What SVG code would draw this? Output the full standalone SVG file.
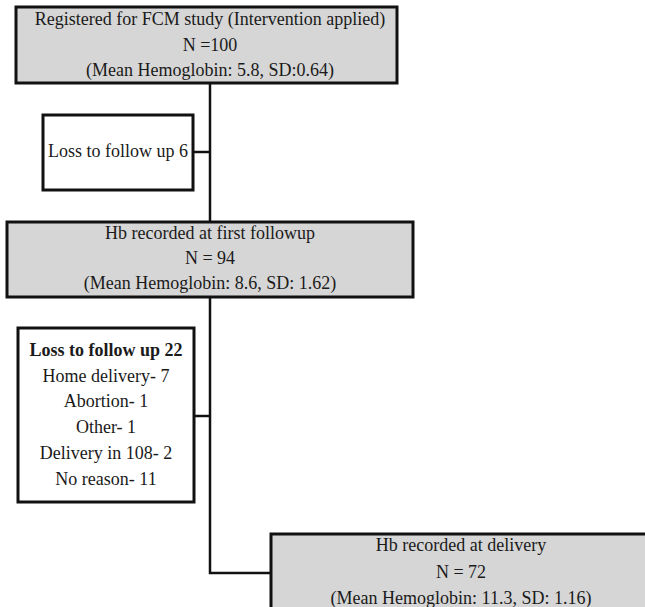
<svg xmlns="http://www.w3.org/2000/svg" width="645" height="607" viewBox="0 0 645 607">
<style>
.box{stroke:#111;stroke-width:3}
.g{fill:#d6d6d6}
.w{fill:#fff}
text{font-family:"Liberation Serif","Times New Roman",serif;font-size:18px;fill:#1a1a1a;text-anchor:middle}
.b{font-weight:bold}
.c{fill:none;stroke:#111;stroke-width:2.5}
</style>
<rect width="645" height="607" fill="#fff"/>
<g id="connectors">
<path class="c" d="M210 83 V222"/>
<path class="c" d="M193 152 H210"/>
<path class="c" d="M210 297 V573 H271"/>
<path class="c" d="M194 416 H210"/>
</g>
<g id="n1">
<rect class="box g" x="16" y="7" width="381" height="76"/>
<text x="210" y="25">Registered for FCM study (Intervention applied)</text>
<text x="210" y="51">N =100</text>
<text x="210" y="76">(Mean Hemoglobin: 5.8, SD:0.64)</text>
</g>
<g id="n2">
<rect class="box w" x="43" y="115" width="150" height="75"/>
<text x="118" y="157">Loss to follow up 6</text>
</g>
<g id="n3">
<rect class="box g" x="7" y="222" width="406" height="75"/>
<text x="210" y="239">Hb recorded at first followup</text>
<text x="210" y="264">N = 94</text>
<text x="210" y="289">(Mean Hemoglobin: 8.6, SD: 1.62)</text>
</g>
<g id="n4">
<rect class="box w" x="18" y="328" width="176" height="174"/>
<text class="b" x="106" y="356">Loss to follow up 22</text>
<text x="106" y="382">Home delivery- 7</text>
<text x="106" y="407">Abortion- 1</text>
<text x="106" y="433">Other- 1</text>
<text x="106" y="459">Delivery in 108- 2</text>
<text x="106" y="485">No reason- 11</text>
</g>
<g id="n5">
<rect class="box g" x="271" y="534" width="390" height="90"/>
<text x="461" y="551">Hb recorded at delivery</text>
<text x="461" y="578">N = 72</text>
<text x="461" y="604">(Mean Hemoglobin: 11.3, SD: 1.16)</text>
</g>
</svg>
